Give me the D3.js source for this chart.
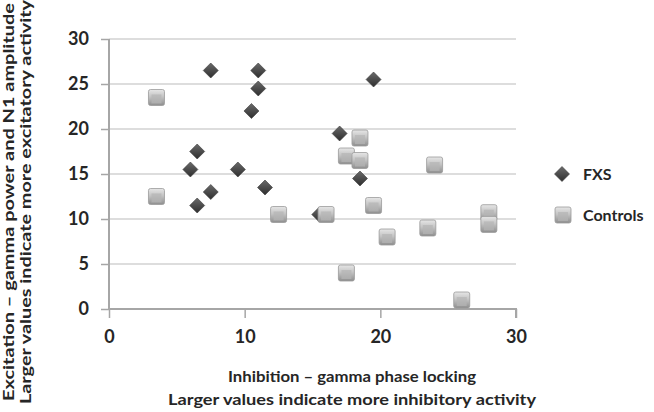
<!DOCTYPE html>
<html>
<head>
<meta charset="utf-8">
<script src="https://cdn.jsdelivr.net/npm/d3@7"></script>
<style>
  body { margin: 0; background: #fff; }
  svg { display: block; }
  text { font-family: Lato, "Open Sans", sans-serif; font-weight: bold; fill: #262626; }
</style>
</head>
<body>
<svg></svg>
<script>
var width = 654;
var height = 412;

// values
var fxsX = [7.5, 11, 11, 10.5, 6.5, 6, 9.5, 7.5, 6.5, 11.5, 15.5, 17, 18.5, 19.5];
var fxsY = [26.5, 26.5, 24.5, 22, 17.5, 15.5, 15.5, 13, 11.5, 13.5, 10.5, 19.5, 14.5, 25.5];
var ctrlX = [3.5, 3.5, 12.5, 16, 18.5, 17.5, 18.5, 24, 19.5, 20.5, 23.5, 28, 28, 17.5, 26];
var ctrlY = [23.5, 12.5, 10.5, 10.5, 19, 17, 16.5, 16, 11.5, 8, 9, 10.7, 9.4, 4, 1];
var yTicks = [0, 5, 10, 15, 20, 25, 30];
var xTicks = [0, 10, 20, 30];
var seriesNames = ["FXS", "Controls"];
var xTitle = ["Inhibition \u2013 gamma phase locking", "Larger values indicate more inhibitory activity"];
var yTitle = ["Excitation \u2013 gamma power and N1 amplitude", "Larger values indicate more excitatory activity"];

var fxs = fxsX.map(function (x, i) { return { x: x, y: fxsY[i] }; });
var ctrl = ctrlX.map(function (x, i) { return { x: x, y: ctrlY[i] }; });

var svg = d3.select('svg')
    .attr('width', width)
    .attr('height', height);

var defs = svg.append('defs');
var sq = defs.append('linearGradient').attr('id', 'sqg').attr('x1', 0).attr('y1', 0).attr('x2', 0).attr('y2', 1);
sq.append('stop').attr('offset', '0%').attr('stop-color', '#e6e6e6');
sq.append('stop').attr('offset', '45%').attr('stop-color', '#c4c4c4');
sq.append('stop').attr('offset', '100%').attr('stop-color', '#8e8e8e');
var dg = defs.append('linearGradient').attr('id', 'dmg').attr('x1', 0).attr('y1', 0).attr('x2', 0).attr('y2', 1);
dg.append('stop').attr('offset', '0%').attr('stop-color', '#6a6a6a');
dg.append('stop').attr('offset', '100%').attr('stop-color', '#2e2e2e');

var x = d3.scaleLinear().domain([0, 30]).range([109, 516]);
var y = d3.scaleLinear().domain([0, 30]).range([309, 39]);

// gridlines
svg.append('g')
  .selectAll('line')
  .data(yTicks.filter(function (d) { return d > 0; }))
  .enter().append('line')
  .attr('x1', x(0)).attr('x2', x(30))
  .attr('y1', function (d) { return y(d); })
  .attr('y2', function (d) { return y(d); })
  .attr('stroke', '#d2d2d2')
  .attr('stroke-width', 1.5);

// axes
var yAxis = svg.append('g')
    .attr('transform', 'translate(' + x(0) + ',0)')
    .call(d3.axisLeft(y).tickValues(yTicks).tickSize(8).tickPadding(12));
var xAxis = svg.append('g')
    .attr('transform', 'translate(0,' + y(0) + ')')
    .call(d3.axisBottom(x).tickValues(xTicks).tickSize(9).tickPadding(12));

[yAxis, xAxis].forEach(function (a) {
  a.select('.domain').attr('stroke', '#a6a6a6').attr('stroke-width', 2);
  a.selectAll('.tick line').attr('stroke', '#a6a6a6').attr('stroke-width', 1.5);
  a.selectAll('.tick text').attr('font-size', 18).attr('font-family', 'Lato, sans-serif')
    .attr('font-weight', 'bold').attr('fill', '#262626');
});
xAxis.select('.domain').attr('d', 'M' + x(0) + ',0H' + x(30) + 'V9');
yAxis.select('.domain').attr('d', 'M0,' + y(30) + 'V' + y(0));

// markers
var diamond = function (g) {
  g.append('path')
    .attr('d', 'M0,-7.5L7.5,0L0,7.5L-7.5,0Z')
    .attr('fill', 'url(#dmg)')
    .attr('stroke', '#3a3a3a')
    .attr('stroke-width', 0.6);
};
var square = function (g) {
  g.append('rect')
    .attr('x', -8).attr('y', -8).attr('width', 16).attr('height', 16)
    .attr('rx', 2)
    .attr('fill', 'url(#sqg)')
    .attr('stroke', '#9a9a9a')
    .attr('stroke-width', 0.8);
  g.append('rect')
    .attr('x', -5).attr('y', -3).attr('width', 10).attr('height', 9)
    .attr('fill', '#b5b5b5')
    .attr('opacity', 0.7);
};

svg.append('g').selectAll('g')
  .data(fxs)
  .enter().append('g')
  .attr('transform', function (d) { return 'translate(' + x(d.x) + ',' + y(d.y) + ')'; })
  .each(function () { diamond(d3.select(this)); });

svg.append('g').selectAll('g')
  .data(ctrl)
  .enter().append('g')
  .attr('transform', function (d) { return 'translate(' + x(d.x) + ',' + y(d.y) + ')'; })
  .each(function () { square(d3.select(this)); });

// legend
var legend = svg.append('g');
var l1 = legend.append('g').attr('transform', 'translate(562,174)');
diamond(l1);
var l2 = legend.append('g').attr('transform', 'translate(563,215)');
square(l2);
legend.selectAll('text')
  .data(seriesNames)
  .enter().append('text')
  .attr('x', 583)
  .attr('y', function (d, i) { return [174, 215][i]; })
  .attr('dy', '0.35em')
  .attr('font-size', 16)
  .text(function (d) { return d; });

// axis titles
svg.append('g').selectAll('text')
  .data(xTitle)
  .enter().append('text')
  .attr('x', 352)
  .attr('y', function (d, i) { return [382, 405][i]; })
  .attr('text-anchor', 'middle')
  .attr('font-size', 15)
  .attr('textLength', function (d, i) { return [248, 368][i]; })
  .attr('lengthAdjust', 'spacingAndGlyphs')
  .text(function (d) { return d; });

svg.append('g').selectAll('text')
  .data(yTitle)
  .enter().append('text')
  .attr('transform', function (d, i) { return 'translate(' + [14, 31][i] + ',202) rotate(-90)'; })
  .attr('text-anchor', 'middle')
  .attr('font-size', 15)
  .attr('textLength', function (d, i) { return [398, 404][i]; })
  .attr('lengthAdjust', 'spacingAndGlyphs')
  .text(function (d) { return d; });
</script>
</body>
</html>
